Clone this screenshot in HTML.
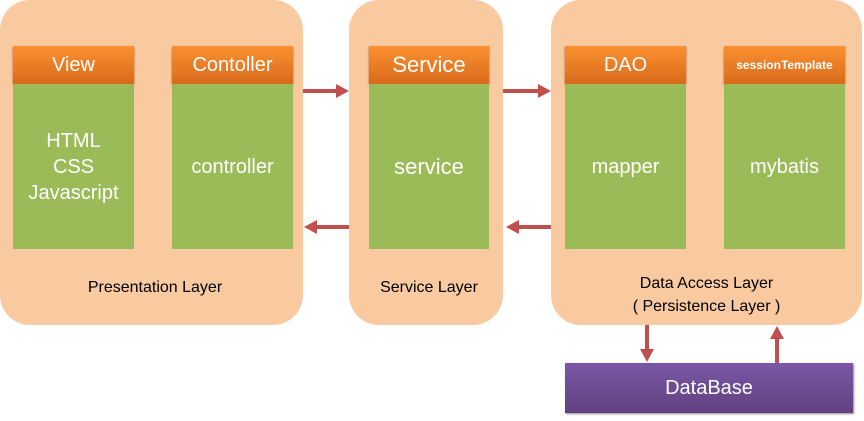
<!DOCTYPE html><html><head><style>
body{margin:0;width:864px;height:421px;background:#fff;position:relative;font-family:"Liberation Sans",sans-serif;overflow:hidden}
.l{position:absolute;background:#f9c9a0;border-radius:30px;top:0;height:325px}
.h{position:absolute;top:46px;height:38px;background:linear-gradient(#fb9131,#d86a1c);color:#fff;font-size:20px;text-align:center;line-height:38px;box-shadow:0 1px 2px #b06030}
.g{position:absolute;top:84px;height:165px;background:#9bbb59;color:#fff;font-size:20px;display:flex;align-items:center;justify-content:center;text-align:center;line-height:26px}
.t{position:absolute;font-size:16px;color:#000;text-align:center}
</style></head><body>
<div class="l" style="left:0;width:303px"></div>
<div class="l" style="left:349px;width:154px"></div>
<div class="l" style="left:551px;width:311px"></div>
<div class="h" style="left:13px;width:121px">View</div>
<div class="g" style="left:13px;width:121px">HTML<br>CSS<br>Javascript</div>
<div class="h" style="left:172px;width:121px">Contoller</div>
<div class="g" style="left:172px;width:121px">controller</div>
<div class="h" style="left:369px;width:120px;font-size:22px">Service</div>
<div class="g" style="left:369px;width:120px;font-size:22px">service</div>
<div class="h" style="left:565px;width:121px">DAO</div>
<div class="g" style="left:565px;width:121px">mapper</div>
<div class="h" style="left:724px;width:121px;font-size:12px;font-weight:bold">sessionTemplate</div>
<div class="g" style="left:724px;width:121px">mybatis</div>
<div class="t" style="left:0;width:310px;top:279px">Presentation Layer</div>
<div class="t" style="left:349px;width:160px;top:279px">Service Layer</div>
<div class="t" style="left:551px;width:311px;top:272px;line-height:23px">Data Access Layer<br>( Persistence Layer )</div>
<div style="position:absolute;left:565px;top:363px;width:288px;height:50px;background:linear-gradient(#7b58a6,#60407f);color:#fff;font-size:20px;text-align:center;line-height:50px;box-shadow:1px 1px 2px #888">DataBase</div>
<svg width="864" height="421" style="position:absolute;left:0;top:0">
<g fill="#c0504d" stroke="none">
<rect x="303" y="89" width="34" height="4"/><polygon points="336,84 349,91 336,98"/>
<rect x="503" y="89" width="36" height="4"/><polygon points="538,84 551,91 538,98"/>
<rect x="316" y="225" width="33" height="4"/><polygon points="317,220 304,227 317,234"/>
<rect x="518" y="225" width="33" height="4"/><polygon points="519,220 506,227 519,234"/>
<rect x="645" y="325" width="4" height="25"/><polygon points="640,349 647,362 654,349"/>
<rect x="775" y="338" width="4" height="25"/><polygon points="770,339 777,326 784,339"/>
</g></svg>
</body></html>
